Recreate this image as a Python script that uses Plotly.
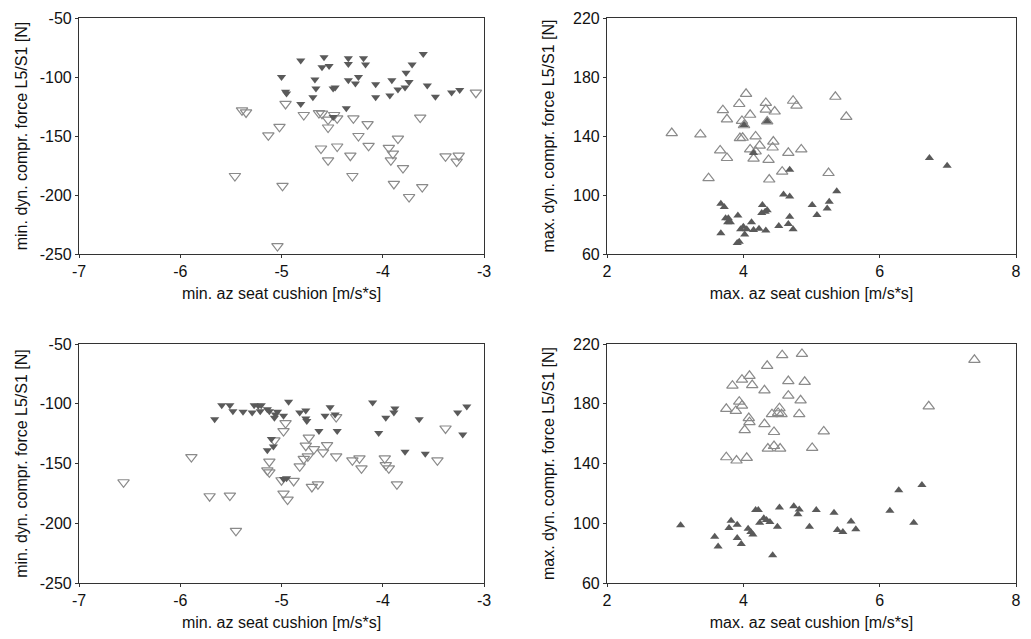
import plotly.graph_objects as go
from plotly.subplots import make_subplots

# ---- Panel A (top-left): min az vs min force ----
a_filled_x = [-4.81, -4.58, -4.60, -4.53, -4.34, -4.34, -4.19, -4.17, -3.60, -3.71, -3.77,
              -5.00, -4.96, -4.95, -4.67, -4.66, -4.69, -4.49, -4.47, -4.34, -4.27, -4.24,
              -4.07, -4.07, -3.91, -3.93, -3.85, -3.78, -3.74, -3.56, -3.48, -3.32, -3.24,
              -4.81, -4.36, -4.49]
a_filled_y = [-86.1, -83.3, -91.7, -90.6, -84.2, -88.9, -84.2, -89.4, -80.6, -89.4, -96.4,
              -100.0, -112.5, -113.9, -102.2, -109.7, -117.2, -109.7, -109.0, -102.8, -105.6, -100.0,
              -106.1, -117.2, -102.8, -115.6, -110.6, -108.9, -104.2, -107.2, -116.7, -113.1, -111.1,
              -122.8, -126.4, -133.9]
a_open_x = [-3.08, -4.96, -5.39, -5.35, -4.78, -4.63, -4.60, -4.54, -4.54, -4.48, -4.45,
            -4.29, -4.15, -3.63, -5.02, -5.13, -4.24, -3.85, -4.61, -4.45, -4.14, -3.94,
            -3.90, -3.92, -4.32, -4.54, -3.38, -3.25, -3.27, -3.80, -5.46, -4.30, -4.99,
            -3.89, -3.61, -3.74, -5.04]
a_open_y = [-113.3, -122.8, -128.3, -130.0, -132.2, -130.6, -131.1, -136.1, -142.8, -132.2, -135.0,
            -135.0, -140.0, -134.4, -142.2, -149.4, -150.0, -152.2, -160.6, -158.9, -158.3, -160.0,
            -165.0, -170.6, -166.7, -170.6, -167.2, -166.7, -171.7, -177.2, -183.9, -183.9, -192.2,
            -190.6, -193.3, -201.7, -243.3]

# ---- Panel B (top-right): max az vs max force ----
b_open_x = [2.95, 3.37, 3.49, 3.66, 3.76, 3.70, 3.76, 3.94, 4.04, 3.98, 4.01, 3.95, 3.99,
            4.10, 4.10, 4.15, 4.18, 4.24, 4.33, 4.33, 4.46, 4.35, 4.44, 4.43, 4.37, 4.38,
            4.57, 4.66, 4.73, 4.78, 4.85, 5.25, 5.35, 5.51, 4.18]
b_open_y = [142.0, 141.1, 111.4, 130.2, 125.1, 157.5, 151.3, 161.7, 168.6, 150.2, 147.3, 138.6, 138.8,
            154.4, 130.9, 124.7, 139.7, 133.5, 162.4, 157.9, 156.6, 149.9, 136.2, 132.2, 123.8, 110.5,
            115.8, 128.6, 163.9, 160.6, 130.9, 114.9, 166.6, 153.0, 129.5]
b_filled_x = [3.67, 3.72, 3.67, 3.74, 3.77, 3.81, 3.92, 3.78, 3.96, 4.00, 4.05, 4.02, 3.94,
              3.91, 4.12, 4.15, 4.23, 4.33, 4.27, 4.28, 4.32, 4.35, 4.52, 4.68, 4.66, 4.73,
              4.59, 4.68, 4.68, 5.01, 5.08, 5.23, 5.26, 5.37, 6.73, 6.99, 4.01, 4.35, 4.15]
b_filled_y = [94.1, 91.8, 74.1, 84.3, 81.6, 81.6, 86.1, 84.3, 76.8, 78.5, 76.8, 73.2, 68.3,
              67.5, 81.6, 76.3, 77.2, 75.9, 87.8, 93.2, 88.7, 89.6, 79.0, 85.2, 80.3, 76.8,
              100.3, 98.9, 117.1, 93.2, 86.5, 90.9, 95.4, 102.5, 125.1, 119.8, 147.5, 150.0, 128.5]

# ---- Panel C (bottom-left): min az vs min force ----
c_filled_x = [-5.66, -5.59, -5.51, -5.48, -5.38, -5.29, -5.27, -5.23, -5.20, -5.21, -5.14,
              -5.12, -5.06, -5.04, -4.98, -5.07, -4.93, -4.82, -4.76, -4.76, -4.75, -4.63,
              -4.52, -4.57, -4.45, -4.47, -4.10, -4.04, -3.97, -3.88, -3.89, -3.64, -3.78,
              -3.58, -3.26, -3.17, -3.21, -5.14, -5.10, -5.08, -4.98, -4.95]
c_filled_y = [-112.9, -101.2, -101.2, -106.2, -106.7, -107.3, -101.2, -101.7, -101.2, -106.2, -104.5,
              -106.2, -109.0, -106.7, -110.1, -111.8, -98.4, -107.3, -105.6, -112.3, -114.5, -122.9,
              -102.9, -110.1, -122.9, -109.0, -99.0, -124.5, -111.8, -104.0, -107.3, -112.9, -140.1,
              -141.8, -107.3, -102.3, -125.7, -139.0, -129.6, -135.7, -162.9, -162.4]
c_open_x = [-6.56, -5.89, -5.71, -5.51, -5.45, -5.12, -5.14, -5.12, -5.07, -4.98, -4.96,
            -5.00, -4.98, -4.94, -4.88, -4.82, -4.78, -4.76, -4.73, -4.74, -4.68, -4.70,
            -4.64, -4.59, -4.55, -4.46, -4.46, -4.30, -4.23, -4.21, -3.98, -3.97, -3.94,
            -3.86, -3.38, -3.46]
c_open_y = [-165.7, -144.6, -177.4, -176.8, -206.3, -148.5, -155.7, -157.4, -130.7, -122.9, -116.2,
            -164.0, -175.2, -180.2, -164.6, -152.4, -146.2, -135.1, -128.4, -144.0, -137.9, -169.6,
            -167.4, -140.7, -134.6, -144.0, -111.2, -147.4, -145.7, -154.0, -145.7, -151.3, -154.0,
            -167.4, -120.7, -147.4]

# ---- Panel D (bottom-right): max az vs max force ----
d_open_x = [4.57, 4.86, 7.39, 4.35, 4.09, 3.98, 3.84, 4.13, 4.66, 4.90, 4.31, 4.66,
            4.84, 3.94, 3.98, 3.75, 3.89, 4.53, 4.51, 4.56, 4.42, 4.82, 6.72, 4.08,
            4.09, 4.31, 4.02, 4.45, 5.18, 4.36, 4.45, 4.54, 5.01, 3.75, 3.90, 4.05]
d_open_y = [212.5, 213.4, 209.4, 205.4, 198.7, 196.1, 192.1, 192.5, 195.2, 194.7, 189.0, 185.4,
            182.3, 181.4, 178.8, 176.6, 175.2, 177.0, 173.9, 173.0, 173.0, 173.0, 178.3, 170.4,
            167.7, 166.4, 162.4, 161.1, 161.5, 150.0, 151.7, 150.0, 150.4, 144.2, 142.0, 143.8]
d_filled_x = [3.08, 3.58, 3.63, 3.82, 3.79, 3.91, 3.91, 3.97, 4.07, 4.11, 4.14, 4.18,
              4.22, 4.24, 4.30, 4.34, 4.39, 4.43, 4.50, 4.53, 4.74, 4.82, 4.80, 4.97,
              5.07, 5.33, 5.38, 5.46, 5.58, 5.65, 6.15, 6.28, 6.50, 6.62]
d_filled_y = [98.6, 91.0, 84.4, 101.7, 96.8, 99.0, 90.1, 86.1, 96.3, 94.1, 92.4, 108.8,
              108.8, 100.3, 103.4, 102.1, 100.8, 78.6, 97.7, 110.5, 111.4, 109.2, 106.1, 97.7,
              108.8, 107.0, 95.5, 94.1, 101.2, 95.9, 108.3, 122.1, 100.3, 125.6]

# ---- tick values / labels (hyphen minus as in the original) ----
min_x_ticks = [-7, -6, -5, -4, -3]
min_x_labels = ["-7", "-6", "-5", "-4", "-3"]
min_y_ticks = [-250, -200, -150, -100, -50]
min_y_labels = ["-250", "-200", "-150", "-100", "-50"]
max_x_ticks = [2, 4, 6, 8]
max_x_labels = ["2", "4", "6", "8"]
max_y_ticks = [60, 100, 140, 180, 220]
max_y_labels = ["60", "100", "140", "180", "220"]

min_xtitle = "min. az seat cushion [m/s*s]"
min_ytitle = "min. dyn. compr. force L5/S1 [N]"
max_xtitle = "max. az seat cushion [m/s*s]"
max_ytitle = "max. dyn. compr. force L5/S1 [N]"

FILL = "#5a5a5a"
OPEN = "#8a8a8a"
FONT = "Liberation Sans, Arial, sans-serif"
TXT = "#111111"

fig = make_subplots(rows=2, cols=2)

def add_pair(row, col, fx, fy, ox, oy, sym):
    fig.add_trace(go.Scatter(x=ox, y=oy, mode="markers", showlegend=False,
                             marker=dict(symbol=sym + "-open", size=10, color=OPEN,
                                         line=dict(width=1.2, color=OPEN))),
                  row=row, col=col)
    fig.add_trace(go.Scatter(x=fx, y=fy, mode="markers", showlegend=False,
                             marker=dict(symbol=sym, size=8, color=FILL,
                                         line=dict(width=0))),
                  row=row, col=col)

add_pair(1, 1, a_filled_x, a_filled_y, a_open_x, a_open_y, "triangle-down")
add_pair(1, 2, b_filled_x, b_filled_y, b_open_x, b_open_y, "triangle-up")
add_pair(2, 1, c_filled_x, c_filled_y, c_open_x, c_open_y, "triangle-down")
add_pair(2, 2, d_filled_x, d_filled_y, d_open_x, d_open_y, "triangle-up")

# page body has an 8px margin: size the figure to fit, and shift domains by it
OFF = 8
W, H = 1031 - 2 * OFF, 639 - 2 * OFF
def xd(a, b):
    return [(a - OFF) / W, (b - OFF) / W]
def yd(top, bot):
    return [1 - (bot - OFF) / H, 1 - (top - OFF) / H]

xdom_l = xd(79, 484)
xdom_r = xd(607, 1016)
ydom_t = yd(18, 254)
ydom_b = yd(344, 583)

axcommon = dict(showgrid=False, zeroline=False, showline=True, mirror=True, automargin=False,
                linecolor="#333333", linewidth=1.2, ticks="outside", ticklen=3,
                tickcolor="#333333", ticklabeloverflow="allow",
                tickfont=dict(size=16, color=TXT, family=FONT))

def ax(rng, tv, tt, title, dom, standoff=8):
    return dict(axcommon, range=rng, tickvals=tv, ticktext=tt, domain=dom,
                title=dict(text=title, font=dict(size=16, color=TXT, family=FONT),
                           standoff=standoff))

fig.update_layout(
    width=W, height=H,
    margin=dict(l=0, r=0, t=0, b=0),
    paper_bgcolor="white", plot_bgcolor="white",
    font=dict(family=FONT, size=16, color=TXT),
    xaxis=ax([-7, -3], min_x_ticks, min_x_labels, min_xtitle, xdom_l),
    yaxis=ax([-250, -50], min_y_ticks, min_y_labels, min_ytitle, ydom_t),
    xaxis2=ax([2, 8], max_x_ticks, max_x_labels, max_xtitle, xdom_r),
    yaxis2=ax([60, 220], max_y_ticks, max_y_labels, max_ytitle, ydom_t, 14),
    xaxis3=ax([-7, -3], min_x_ticks, min_x_labels, min_xtitle, xdom_l),
    yaxis3=ax([-250, -50], min_y_ticks, min_y_labels, min_ytitle, ydom_b),
    xaxis4=ax([2, 8], max_x_ticks, max_x_labels, max_xtitle, xdom_r),
    yaxis4=ax([60, 220], max_y_ticks, max_y_labels, max_ytitle, ydom_b, 14),
)

fig.write_html("out.html")
